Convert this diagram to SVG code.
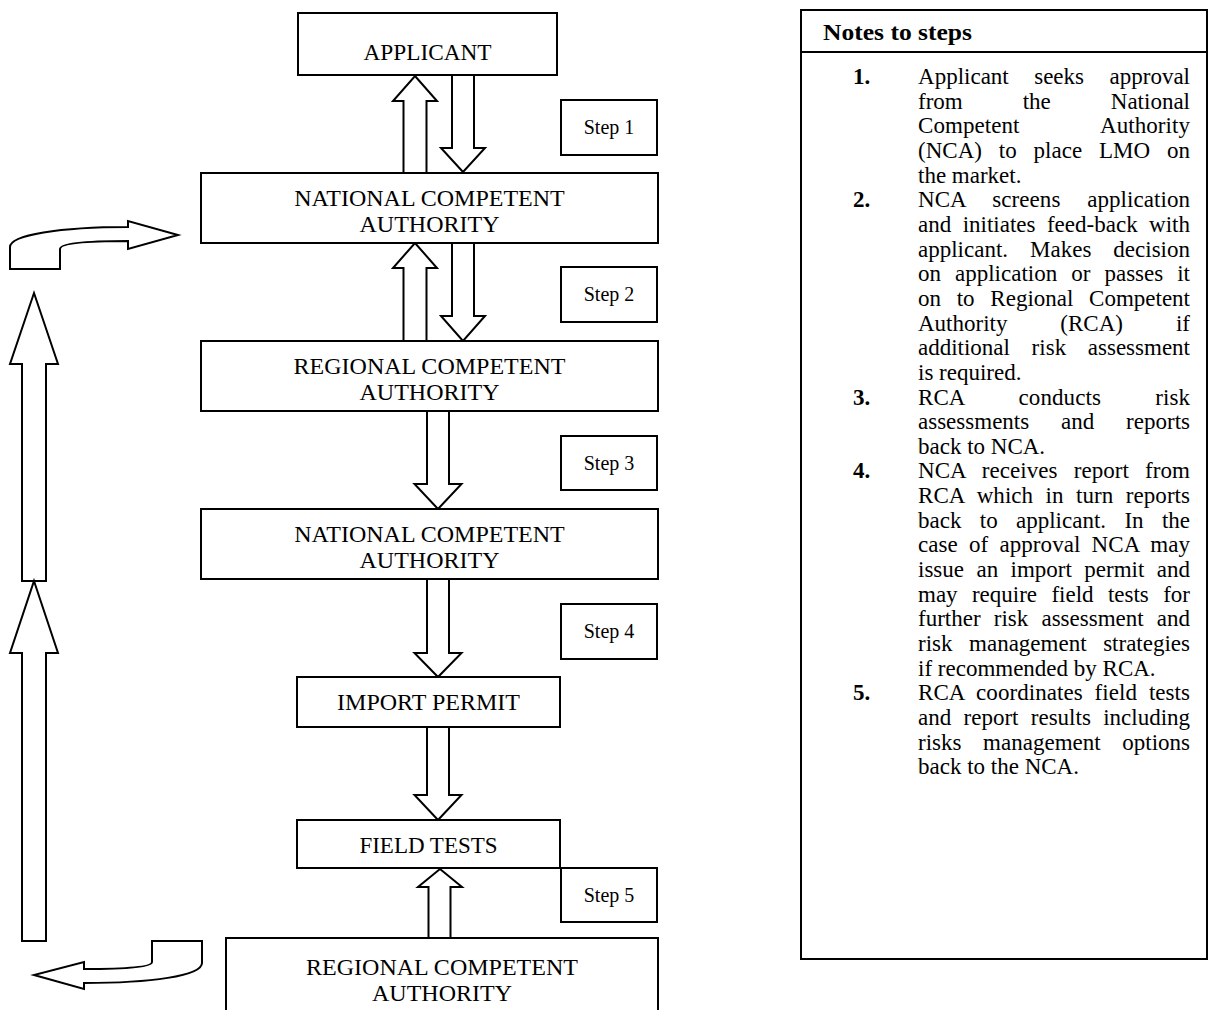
<svg xmlns="http://www.w3.org/2000/svg" width="1210" height="1010" viewBox="0 0 1210 1010">
<style>
.box{fill:#fff;stroke:#000;stroke-width:2}
.arr{fill:#fff;stroke:#000;stroke-width:2;stroke-linejoin:miter}
.lbl{font-family:"Liberation Serif","Times New Roman",serif;font-size:24px;fill:#000;text-anchor:middle}
.step{font-family:"Liberation Serif","Times New Roman",serif;font-size:20px;fill:#000;text-anchor:middle}
.nt{font-family:"Liberation Serif","Times New Roman",serif;font-size:23px;fill:#000}
.num{font-family:"Liberation Serif","Times New Roman",serif;font-size:23px;font-weight:bold;fill:#000}
.hd{font-family:"Liberation Serif","Times New Roman",serif;font-size:24px;font-weight:bold;fill:#000}
</style>
<rect width="1210" height="1010" fill="#fff"/>
<g id="connectors">
<polygon class="arr" points="415,76 437,101 426.5,101 426.5,173 403.5,173 403.5,101 393,101"/>
<polygon class="arr" points="452,75 474,75 474,148 485,148 463,172 441,148 452,148"/>
<polygon class="arr" points="415,243 437,268 426.5,268 426.5,341 403.5,341 403.5,268 393,268"/>
<polygon class="arr" points="452,243 474,243 474,316 485,316 463,341 441,316 452,316"/>
<polygon class="arr" points="427,411 449,411 449,484 461.5,484 438,509 414.5,484 427,484"/>
<polygon class="arr" points="427,579 449,579 449,653 461.5,653 438,677 414.5,653 427,653"/>
<polygon class="arr" points="427,727 449,727 449,795 461.5,795 438,820 414.5,795 427,795"/>
<polygon class="arr" points="440,869 462,887 450.5,887 450.5,938 428.5,938 428.5,887 418,887"/>
<polygon class="arr" points="34,293 58,364 46,364 46,581 22,581 22,364 10,364"/>
<polygon class="arr" points="34,581 58,653 46,653 46,941 22,941 22,653 10,653"/>
<path class="arr" d="M10,269 L10,247 C10,235 60,227 128,227 L128,221 L178,235 L128,249 L128,241 C90,241 60,243 60,249 L60,269 Z"/>
<path class="arr" d="M152,941 L202,941 L202,963 C202,976 150,983 84,983 L84,989 L34,975 L84,962 L84,969 C125,969 152,967 152,962 Z"/>
</g>
<g id="applicant"><rect class="box" x="298" y="13" width="259" height="62"/><text class="lbl" x="427.5" y="60" style="font-size:23.3px">APPLICANT</text></g>
<g id="nca1"><rect class="box" x="201" y="173" width="457" height="70"/><text class="lbl" x="429.5" y="206">NATIONAL COMPETENT</text><text class="lbl" x="429.5" y="232">AUTHORITY</text></g>
<g id="rca1"><rect class="box" x="201" y="341" width="457" height="70"/><text class="lbl" x="429.5" y="374">REGIONAL COMPETENT</text><text class="lbl" x="429.5" y="400">AUTHORITY</text></g>
<g id="nca2"><rect class="box" x="201" y="509" width="457" height="70"/><text class="lbl" x="429.5" y="542">NATIONAL COMPETENT</text><text class="lbl" x="429.5" y="568">AUTHORITY</text></g>
<g id="import"><rect class="box" x="297" y="677" width="263" height="50"/><text class="lbl" x="428.5" y="710">IMPORT PERMIT</text></g>
<g id="field"><rect class="box" x="297" y="820" width="263" height="48"/><text class="lbl" x="428.5" y="853" style="font-size:23px">FIELD TESTS</text></g>
<g id="rca2"><path class="box" d="M226,1012 L226,938 L658,938 L658,1012"/><text class="lbl" x="442" y="975">REGIONAL COMPETENT</text><text class="lbl" x="442" y="1001">AUTHORITY</text></g>
<g id="step1"><rect class="box" x="561" y="100" width="96" height="55"/><text class="step" x="609" y="134">Step 1</text></g>
<g id="step2"><rect class="box" x="561" y="267" width="96" height="55"/><text class="step" x="609" y="301">Step 2</text></g>
<g id="step3"><rect class="box" x="561" y="436" width="96" height="54"/><text class="step" x="609" y="470">Step 3</text></g>
<g id="step4"><rect class="box" x="561" y="604" width="96" height="55"/><text class="step" x="609" y="638">Step 4</text></g>
<g id="step5"><rect class="box" x="561" y="868" width="96" height="54"/><text class="step" x="609" y="902">Step 5</text></g>
<g id="notes">
<rect class="box" x="801" y="10" width="406" height="949"/>
<line x1="801" y1="52" x2="1207" y2="52" stroke="#000" stroke-width="2"/>
<text class="hd" x="823" y="40" textLength="149" lengthAdjust="spacingAndGlyphs">Notes to steps</text>
<text class="num" x="853" y="84">1.</text>
<text class="nt" x="918" y="84" word-spacing="19.7" textLength="272" lengthAdjust="spacing">Applicant seeks approval</text>
<text class="nt" x="918" y="108.7" word-spacing="54.2" textLength="272" lengthAdjust="spacing">from the National</text>
<text class="nt" x="918" y="133.3" word-spacing="75.9" textLength="272" lengthAdjust="spacing">Competent Authority</text>
<text class="nt" x="918" y="158" word-spacing="11.1" textLength="272" lengthAdjust="spacing">(NCA) to place LMO on</text>
<text class="nt" x="918" y="182.6">the market.</text>
<text class="num" x="853" y="207.3">2.</text>
<text class="nt" x="918" y="207.3" word-spacing="21" textLength="272" lengthAdjust="spacing">NCA screens application</text>
<text class="nt" x="918" y="231.9" word-spacing="5.7" textLength="272" lengthAdjust="spacing">and initiates feed-back with</text>
<text class="nt" x="918" y="256.6" word-spacing="16.2" textLength="272" lengthAdjust="spacing">applicant. Makes decision</text>
<text class="nt" x="918" y="281.2" word-spacing="8.3" textLength="272" lengthAdjust="spacing">on application or passes it</text>
<text class="nt" x="918" y="305.9" word-spacing="10" textLength="272" lengthAdjust="spacing">on to Regional Competent</text>
<text class="nt" x="918" y="330.5" word-spacing="47.2" textLength="272" lengthAdjust="spacing">Authority (RCA) if</text>
<text class="nt" x="918" y="355.2" word-spacing="15.9" textLength="272" lengthAdjust="spacing">additional risk assessment</text>
<text class="nt" x="918" y="379.8">is required.</text>
<text class="num" x="853" y="404.5">3.</text>
<text class="nt" x="918" y="404.5" word-spacing="48.5" textLength="272" lengthAdjust="spacing">RCA conducts risk</text>
<text class="nt" x="918" y="429.1" word-spacing="26.1" textLength="272" lengthAdjust="spacing">assessments and reports</text>
<text class="nt" x="918" y="453.8">back to NCA.</text>
<text class="num" x="853" y="478.4">4.</text>
<text class="nt" x="918" y="478.4" word-spacing="10.4" textLength="272" lengthAdjust="spacing">NCA receives report from</text>
<text class="nt" x="918" y="503.1" word-spacing="6.7" textLength="272" lengthAdjust="spacing">RCA which in turn reports</text>
<text class="nt" x="918" y="527.7" word-spacing="12.6" textLength="272" lengthAdjust="spacing">back to applicant. In the</text>
<text class="nt" x="918" y="552.4" word-spacing="5.4" textLength="272" lengthAdjust="spacing">case of approval NCA may</text>
<text class="nt" x="918" y="577" word-spacing="6.7" textLength="272" lengthAdjust="spacing">issue an import permit and</text>
<text class="nt" x="918" y="601.7" word-spacing="8.6" textLength="272" lengthAdjust="spacing">may require field tests for</text>
<text class="nt" x="918" y="626.3" word-spacing="7.4" textLength="272" lengthAdjust="spacing">further risk assessment and</text>
<text class="nt" x="918" y="651" word-spacing="10.8" textLength="272" lengthAdjust="spacing">risk management strategies</text>
<text class="nt" x="918" y="675.6">if recommended by RCA.</text>
<text class="num" x="853" y="700.3">5.</text>
<text class="nt" x="918" y="700.3" word-spacing="6.1" textLength="272" lengthAdjust="spacing">RCA coordinates field tests</text>
<text class="nt" x="918" y="724.9" word-spacing="6.6" textLength="272" lengthAdjust="spacing">and report results including</text>
<text class="nt" x="918" y="749.6" word-spacing="15.9" textLength="272" lengthAdjust="spacing">risks management options</text>
<text class="nt" x="918" y="774.2">back to the NCA.</text>
</g>
</svg>
